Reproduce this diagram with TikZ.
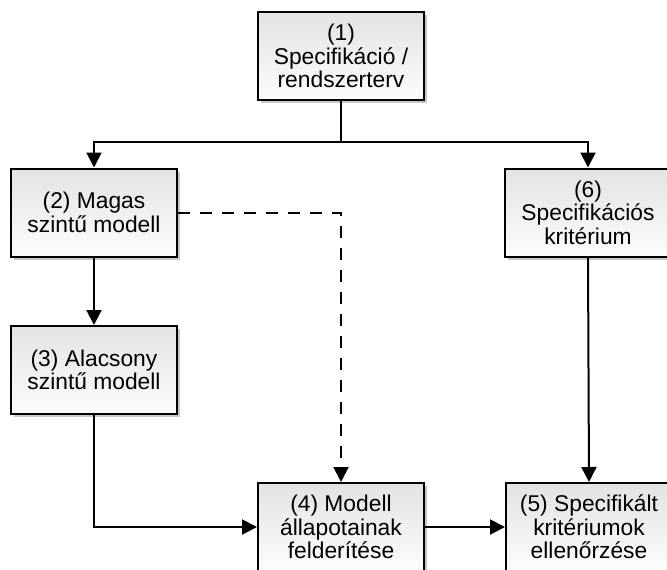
\documentclass[tikz,border=0pt]{standalone}
\usepackage{fontspec}
\setmainfont{Liberation Sans}
\usetikzlibrary{arrows.meta,shadows}
\begin{document}
\begin{tikzpicture}[x=1pt,y=-1pt,
  box/.style={draw=black, line width=2pt, minimum width=166pt, minimum height=88pt,
    inner sep=0pt, align=center, top color=black!11, bottom color=black!1,
    drop shadow={shadow xshift=3pt, shadow yshift=-3pt, fill=black!22, opacity=1},
    font=\fontsize{22.8}{23.5}\selectfont},
  conn/.style={draw=black, line width=2pt},
  arr/.style={conn, -{Triangle[length=15pt,width=15pt]}},
  dasharr/.style={arr, dash pattern=on 12pt off 10pt}]
  \useasboundingbox (0,0) rectangle (667,570);
  \clip (0,0) rectangle (667,570);

  % process boxes
  \node[box] (b1) at (341,56)    {(1)\\Specifikáció /\\rendszerterv};
  \node[box] (b2) at (94,212.5)  {(2) Magas\\szintű modell};
  \node[box] (b3) at (94,370)    {(3) Alacsony\\szintű modell};
  \node[box] (b6) at (588,212.5) {(6)\\Specifikációs\\kritérium};
  \node[box] (b4) at (341,527)   {(4) Modell\\állapotainak\\felderítése};
  \node[box] (b5) at (589,527)   {(5) Specifikált\\kritériumok\\ellenőrzése};

  % branching from the specification
  \coordinate (fork) at (341,142);
  \draw[conn] (b1.south) -- (fork);
  \draw[arr] (fork) -| (b2.north);
  \draw[arr] (fork) -| (b6.north);

  % remaining flow
  \draw[arr] (b2.south) -- (b3.north);
  \draw[arr] (b3.south) |- (b4.west);
  \draw[dasharr] (b2.east) -| (b4.north);
  \draw[arr] (b4.east) -- (b5.west);
  \draw[arr] (b6.south) -- (b5.north);
\end{tikzpicture}
\end{document}
